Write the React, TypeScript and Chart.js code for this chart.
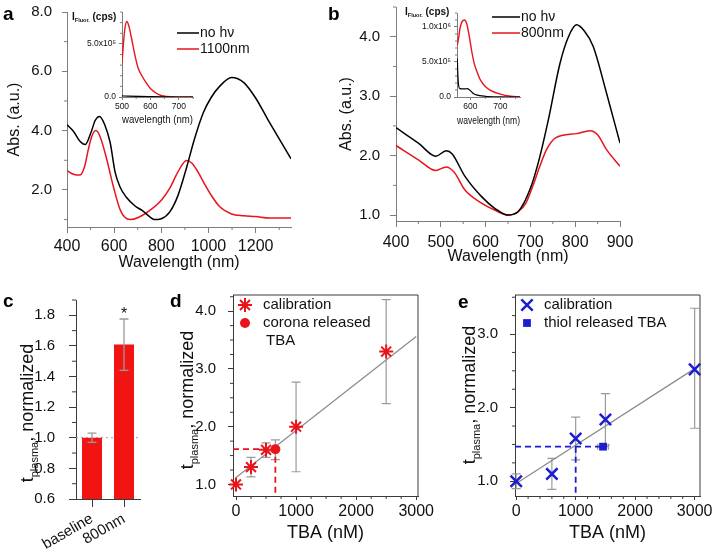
import React, { useEffect, useRef } from 'react';
import { Chart, registerables } from 'chart.js';

Chart.register(...registerables);

const FONT = '"Liberation Sans", Arial, Helvetica, sans-serif';
Chart.defaults.font.family = FONT;
const INK = '#111111';
const RED = '#e8141c';
const BAR_RED = '#f21313';
const BLUE = '#1d1dd0';
const ERR_GRAY = '#9a9a9a';
const FIT_GRAY = '#8a8a8a';
const AXIS_LIGHT = '#7d7d7d';
const AXIS_DARK = '#3a3a3a';

/* ---------------- Panel a: absorbance ---------------- */
const aWlNoHv = [400, 427, 455, 477, 500, 520, 538, 560, 583, 604, 625, 650, 690, 720, 750, 770, 800, 836, 870, 907, 940, 978, 1010, 1048, 1098, 1150, 1200, 1250, 1300, 1350];
const aAbsNoHv = [4.2, 3.98, 3.64, 3.53, 3.9, 4.35, 4.48, 4.2, 3.6, 2.6, 2.1, 1.77, 1.45, 1.3, 1.1, 1.0, 1.03, 1.26, 1.8, 2.75, 3.7, 4.6, 5.1, 5.5, 5.79, 5.62, 5.1, 4.4, 3.72, 3.05];
const aWl1100 = [400, 430, 455, 475, 490, 505, 522, 540, 569, 597, 626, 645, 668, 700, 750, 800, 836, 870, 907, 930, 950, 980, 1006, 1048, 1098, 1150, 1200, 1260, 1350];
const aAbs1100 = [2.65, 2.52, 2.5, 2.8, 3.35, 3.8, 4.0, 3.8, 3.02, 2.1, 1.32, 1.08, 1.0, 1.06, 1.3, 1.65, 2.06, 2.6, 2.99, 2.9, 2.68, 2.25, 1.89, 1.43, 1.19, 1.13, 1.1, 1.05, 1.05];
const aXTicks = [400, 600, 800, 1000, 1200];
const aXTickLabels = ['400', '600', '800', '1000', '1200'];
const aYTicks = [2, 4, 6, 8];
const aYTickLabels = ['2.0', '4.0', '6.0', '8.0'];
const aSeriesNames = ['no h\u03bd', '1100nm'];

/* inset a: fluorescence */
const aiWl1100 = [500, 505, 510, 517, 525, 533, 545, 557, 570, 586, 600, 621, 640, 657, 700, 750];
const aiFluor1100 = [3.2e5, 5.0e5, 6.4e5, 7.1e5, 6.6e5, 5.6e5, 4.0e5, 2.7e5, 2.0e5, 1.3e5, 0.8e5, 0.35e5, 0.12e5, 0.05e5, 0.01e5, 0];
const aiWlNoHv = [500, 520, 560, 600, 650, 700, 750];
const aiFluorNoHv = [0.1e5, 0.08e5, 0.05e5, 0.03e5, 0.01e5, 0, 0];
const aiXTicks = [500, 600, 700];
const aiXTickLabels = ['500', '600', '700'];
const aiYTicks = [0, 5e5];
const aiYTickLabels = ['0.0', '5.0x10\u2075'];

/* ---------------- Panel b ---------------- */
const bWlNoHv = [400, 450, 489, 512, 525, 554, 591, 621, 650, 673, 700, 720, 740, 766, 785, 803, 820, 840, 870, 900];
const bAbsNoHv = [2.47, 2.21, 1.99, 2.08, 2.03, 1.65, 1.31, 1.11, 1.0, 1.06, 1.45, 1.95, 2.6, 3.55, 4.0, 4.2, 4.1, 3.84, 3.05, 2.21];
const bWl800 = [400, 450, 489, 512, 530, 554, 591, 621, 650, 673, 690, 706, 720, 736, 756, 803, 833, 850, 870, 900];
const bAbs800 = [2.17, 1.93, 1.75, 1.81, 1.72, 1.42, 1.2, 1.08, 1.0, 1.06, 1.2, 1.5, 1.8, 2.1, 2.3, 2.37, 2.42, 2.35, 2.1, 1.82];
const bXTicks = [400, 500, 600, 700, 800, 900];
const bXTickLabels = ['400', '500', '600', '700', '800', '900'];
const bYTicks = [1, 2, 3, 4];
const bYTickLabels = ['1.0', '2.0', '3.0', '4.0'];
const bSeriesNames = ['no h\u03bd', '800nm'];

/* inset b */
const biWl800 = [557, 562, 566, 572, 580, 588, 597, 605, 613, 625, 634, 650, 667, 700, 733, 765];
const biFluor800 = [7.4e5, 8.6e5, 9.8e5, 1.07e6, 1.1e6, 1.05e6, 8.6e5, 6.5e5, 4.8e5, 3.3e5, 2.4e5, 1.5e5, 0.95e5, 0.4e5, 0.1e5, 0];
const biWlNoHv = [557, 559, 562, 566, 575, 583, 590, 598, 610, 620, 650, 700, 765];
const biFluorNoHv = [5.5e5, 3.0e5, 1.5e5, 1.2e5, 1.15e5, 1.15e5, 1.2e5, 1.0e5, 0.5e5, 0.3e5, 0.1e5, 0.02e5, 0];
const biXTicks = [600, 700];
const biXTickLabels = ['600', '700'];
const biYTicks = [0, 5e5, 1e6];
const biYTickLabels = ['0.0', '5.0x10\u2075', '1.0x10\u2076'];

/* ---------------- Panel c ---------------- */
const cCategories = ['baseline', '800nm'];
const cValues = [1.0, 1.61];
const cErrLow = [0.97, 1.44];
const cErrHigh = [1.03, 1.776];
const cSignificance = ['', '*'];
const cYTicks = [0.6, 0.8, 1.0, 1.2, 1.4, 1.6, 1.8];
const cYTickLabels = ['0.6', '0.8', '1.0', '1.2', '1.4', '1.6', '1.8'];
const cBaselineRef = 1.0;

/* ---------------- Panel d ---------------- */
const dXMin = -50;
const dXMax = 3030;
const dYMin = 0.8;
const dYMax = 4.28;
const dCalTBA = [0, 250, 500, 1000, 2500];
const dCalT = [1.0, 1.3, 1.6, 2.0, 3.3];
const dCalErrLow = [1.0, 1.13, 1.47, 1.22, 2.4];
const dCalErrHigh = [1.0, 1.47, 1.72, 2.77, 4.2];
const dCoronaTBA = [655];
const dCoronaT = [1.61];
const dCoronaErrLow = [1.43];
const dCoronaErrHigh = [1.77];
const dFitTBA = [0, 3000];
const dFitT = [1.12, 3.56];
const dGuideTBA = [dXMin, 655, 655];
const dGuideT = [1.61, 1.61, dYMin];
const dXTicks = [0, 1000, 2000, 3000];
const dXTickLabels = ['0', '1000', '2000', '3000'];
const dYTicks = [1, 2, 3, 4];
const dYTickLabels = ['1.0', '2.0', '3.0', '4.0'];

/* ---------------- Panel e ---------------- */
const eXMin = -20;
const eXMax = 3090;
const eYMin = 0.8;
const eYMax = 3.53;
const eCalTBA = [0, 600, 1000, 1500, 3000];
const eCalT = [1.0, 1.1, 1.58, 1.84, 2.52];
const eCalErrLow = [0.9, 0.89, 1.29, 1.49, 1.72];
const eCalErrHigh = [1.1, 1.31, 1.87, 2.19, 3.35];
const eThiolTBA = [1460];
const eThiolT = [1.47];
const eThiolXErrLow = [1370];
const eThiolXErrHigh = [1550];
const eFitTBA = [0, 3000];
const eFitT = [0.97, 2.53];
const eGuideHTBA = [eXMin, 1460];
const eGuideHT = [1.47, 1.47];
const eGuideVTBA = [1000, 1000];
const eGuideVT = [1.47, eYMin];
const eXTicks = [0, 1000, 2000, 3000];
const eXTickLabels = ['0', '1000', '2000', '3000'];
const eYTicks = [1, 2, 3];
const eYTickLabels = ['1.0', '2.0', '3.0'];

/* ---------------- helpers ---------------- */
const pts = (xs: number[], ys: number[]) => xs.map((x, i) => ({ x, y: ys[i] }));

function fixBox(s: any, isX: boolean, size: number) {
  if (isX) s.height = size;
  else s.width = size;
  s.paddingLeft = 0;
  s.paddingRight = 0;
  s.paddingTop = 0;
  s.paddingBottom = 0;
}

function linearAxis(p: any) {
  return {
    type: 'linear',
    position: p.isX ? 'bottom' : 'left',
    min: p.min,
    max: p.max,
    bounds: 'data',
    afterBuildTicks: (s: any) => {
      s.ticks = p.ticks.map((v: number) => ({ value: v }));
    },
    afterFit: (s: any) => fixBox(s, p.isX, p.fit),
    ticks: {
      autoSkip: false,
      maxRotation: 0,
      minRotation: 0,
      padding: p.pad,
      color: INK,
      font: { family: FONT, size: p.size },
      callback: (_v: any, i: number) => p.labels[i],
    },
    grid: { display: true, drawOnChartArea: false, drawTicks: true, tickLength: p.tickLength, tickColor: p.color, tickWidth: 1 },
    border: { display: true, color: p.color, width: 1 },
    title: p.title
      ? { display: true, text: p.title, color: INK, font: { family: FONT, size: p.titleSize }, padding: p.titlePad }
      : { display: false },
  };
}

function fontStr(p: any) {
  return `${p.bold ? 'bold ' : ''}${p.size}px ${FONT}`;
}

function drawParts(ctx: CanvasRenderingContext2D, parts: any[], x: number, y: number, rotate: boolean, center: boolean) {
  ctx.save();
  ctx.translate(x, y);
  if (rotate) ctx.rotate(-Math.PI / 2);
  const widths = parts.map((p) => {
    ctx.font = fontStr(p);
    return ctx.measureText(p.text).width;
  });
  const total = widths.reduce((a, b) => a + b, 0);
  let cx = center ? -total / 2 : 0;
  ctx.textBaseline = 'alphabetic';
  ctx.textAlign = 'left';
  ctx.fillStyle = INK;
  parts.forEach((p, i) => {
    ctx.font = fontStr(p);
    ctx.fillText(p.text, cx, p.dy || 0);
    cx += widths[i];
  });
  ctx.restore();
}

function drawMarker(ctx: CanvasRenderingContext2D, style: string, x: number, y: number, r: number, color: string, lw: number) {
  ctx.save();
  ctx.strokeStyle = color;
  ctx.fillStyle = color;
  ctx.lineWidth = lw;
  if (style === 'circle') {
    ctx.beginPath();
    ctx.arc(x, y, r, 0, Math.PI * 2);
    ctx.fill();
  } else if (style === 'rect') {
    const s = r * Math.SQRT1_2;
    ctx.fillRect(x - s, y - s, 2 * s, 2 * s);
  } else {
    ctx.beginPath();
    if (style === 'star' || style === 'cross') {
      ctx.moveTo(x - r, y);
      ctx.lineTo(x + r, y);
      ctx.moveTo(x, y - r);
      ctx.lineTo(x, y + r);
    }
    if (style === 'star' || style === 'crossRot') {
      const o = r * Math.SQRT1_2;
      ctx.moveTo(x - o, y - o);
      ctx.lineTo(x + o, y + o);
      ctx.moveTo(x - o, y + o);
      ctx.lineTo(x + o, y - o);
    }
    ctx.stroke();
  }
  ctx.restore();
}

function drawErrors(chart: any, list: any[]) {
  const { ctx, scales } = chart;
  const xs = scales.x;
  const ys = scales.y;
  list.forEach((eb) => {
    ctx.save();
    ctx.strokeStyle = eb.color;
    ctx.lineWidth = eb.lw || 1;
    for (let i = 0; i < eb.lows.length; i++) {
      if (eb.lows[i] === eb.highs[i]) continue;
      ctx.beginPath();
      if (eb.horizontal) {
        const py = ys.getPixelForValue(eb.at[i]);
        const x1 = xs.getPixelForValue(eb.lows[i]);
        const x2 = xs.getPixelForValue(eb.highs[i]);
        ctx.moveTo(x1, py);
        ctx.lineTo(x2, py);
        ctx.moveTo(x1, py - eb.cap);
        ctx.lineTo(x1, py + eb.cap);
        ctx.moveTo(x2, py - eb.cap);
        ctx.lineTo(x2, py + eb.cap);
      } else {
        const px = xs.getPixelForValue(eb.at[i]);
        const y1 = ys.getPixelForValue(eb.lows[i]);
        const y2 = ys.getPixelForValue(eb.highs[i]);
        ctx.moveTo(px, y1);
        ctx.lineTo(px, y2);
        ctx.moveTo(px - eb.cap, y1);
        ctx.lineTo(px + eb.cap, y1);
        ctx.moveTo(px - eb.cap, y2);
        ctx.lineTo(px + eb.cap, y2);
      }
      ctx.stroke();
    }
    ctx.restore();
  });
}

function makeDecor(cfg: any) {
  return {
    id: 'decor',
    beforeDatasetsDraw(chart: any) {
      const { ctx, chartArea: ca, scales } = chart;
      if (cfg.refLineY) {
        const py = scales.y.getPixelForValue(cfg.refLineY.value);
        ctx.save();
        ctx.strokeStyle = cfg.refLineY.color;
        ctx.lineWidth = 1;
        ctx.setLineDash(cfg.refLineY.dash);
        ctx.beginPath();
        ctx.moveTo(ca.left, py);
        ctx.lineTo(ca.right, py);
        ctx.stroke();
        ctx.restore();
      }
      if (cfg.errorBars && !cfg.errorsOnTop) drawErrors(chart, cfg.errorBars);
    },
    afterDatasetsDraw(chart: any) {
      if (cfg.errorBars && cfg.errorsOnTop) drawErrors(chart, cfg.errorBars);
      const { ctx, scales } = chart;
      (cfg.notes || []).forEach((n: any) => {
        if (!n.text) return;
        const px = scales.x.getPixelForValue(n.at);
        const py = scales.y.getPixelForValue(n.value);
        ctx.save();
        ctx.fillStyle = INK;
        ctx.font = `${n.size}px ${FONT}`;
        ctx.textAlign = 'center';
        ctx.textBaseline = 'alphabetic';
        ctx.fillText(n.text, px, py + (n.dy || 0));
        ctx.restore();
      });
    },
    afterDraw(chart: any) {
      const { ctx, chartArea: ca, scales } = chart;
      if (cfg.frame) {
        ctx.save();
        ctx.strokeStyle = cfg.frame;
        ctx.lineWidth = 1;
        ctx.beginPath();
        ctx.moveTo(ca.left, ca.top);
        ctx.lineTo(ca.right, ca.top);
        ctx.lineTo(ca.right, ca.bottom);
        ctx.stroke();
        ctx.restore();
      }
      if (cfg.minor) {
        ctx.save();
        ctx.strokeStyle = cfg.minor.color;
        ctx.lineWidth = 1;
        ctx.beginPath();
        ['x', 'y'].forEach((k) => {
          const m = cfg.minor[k];
          if (!m) return;
          const s = scales[k];
          const majors = s.ticks.map((t: any) => t.value);
          const start = Math.ceil(s.min / m.step - 1e-9);
          for (let i = start; i * m.step <= s.max + 1e-9; i++) {
            const v = i * m.step;
            if (majors.some((mv: number) => Math.abs(mv - v) < m.step * 1e-3)) continue;
            const p = s.getPixelForValue(v);
            if (k === 'x') {
              ctx.moveTo(p, ca.bottom);
              ctx.lineTo(p, ca.bottom + m.len);
            } else {
              ctx.moveTo(ca.left - m.len, p);
              ctx.lineTo(ca.left, p);
            }
          }
        });
        ctx.stroke();
        ctx.restore();
      }
      (cfg.legend || []).forEach((it: any) => {
        if (it.kind === 'line') {
          ctx.save();
          ctx.strokeStyle = it.color;
          ctx.lineWidth = it.lw;
          ctx.beginPath();
          ctx.moveTo(it.x1, it.y);
          ctx.lineTo(it.x2, it.y);
          ctx.stroke();
          ctx.restore();
        } else if (it.kind === 'marker') {
          drawMarker(ctx, it.style, it.x, it.y, it.r, it.color, it.lw);
        }
        if (it.text) {
          ctx.save();
          ctx.fillStyle = INK;
          ctx.font = `${it.size}px ${FONT}`;
          ctx.textAlign = 'left';
          ctx.textBaseline = 'middle';
          ctx.fillText(it.text, it.tx, it.y);
          ctx.restore();
        }
      });
      if (cfg.hTitle) drawParts(ctx, cfg.hTitle.parts, cfg.hTitle.x, cfg.hTitle.y, false, false);
      if (cfg.vTitle) drawParts(ctx, cfg.vTitle.parts, cfg.vTitle.x, cfg.vTitle.y, true, true);
      if (cfg.letter) {
        ctx.save();
        ctx.fillStyle = '#000';
        ctx.font = `bold 19px ${FONT}`;
        ctx.textAlign = 'left';
        ctx.textBaseline = 'alphabetic';
        ctx.fillText(cfg.letter.text, cfg.letter.x, cfg.letter.y);
        ctx.restore();
      }
    },
  };
}

const baseOptions = (padding: any) => ({
  responsive: false,
  maintainAspectRatio: false,
  animation: false,
  devicePixelRatio: 1,
  events: [],
  layout: { padding },
  plugins: { legend: { display: false }, tooltip: { enabled: false }, title: { display: false } },
});

const curve = (xs: number[], ys: number[], color: string, w = 1.5) => ({
  data: pts(xs, ys),
  borderColor: color,
  backgroundColor: color,
  borderWidth: w,
  pointRadius: 0,
  pointHoverRadius: 0,
  cubicInterpolationMode: 'monotone',
  fill: false,
});

const vTitleParts = [
  { text: 't', size: 18 },
  { text: 'plasma', size: 11, dy: 5 },
  { text: ', normalized', size: 18 },
];
const fluorTitleParts = [
  { text: 'I', size: 10, bold: true },
  { text: 'Fluor.', size: 5.5, bold: true, dy: 2 },
  { text: ' (cps)', size: 10, bold: true },
];

/* ---------------- chart configs ---------------- */
function configA(): any {
  return {
    type: 'line',
    data: { datasets: [curve(aWlNoHv, aAbsNoHv, '#000'), curve(aWl1100, aAbs1100, RED)] },
    options: {
      ...baseOptions({ left: 0, top: 12, right: 19, bottom: 0 }),
      scales: {
        x: linearAxis({ isX: true, min: 400, max: 1350, ticks: aXTicks, labels: aXTickLabels, fit: 48, tickLength: 6, pad: 4, size: 16, color: AXIS_LIGHT, title: 'Wavelength (nm)', titleSize: 16, titlePad: { top: 0, bottom: 3 } }),
        y: linearAxis({ isX: false, min: 0.75, max: 8, ticks: aYTicks, labels: aYTickLabels, fit: 67, tickLength: 5, pad: 10, size: 15, color: AXIS_LIGHT, title: 'Abs. (a.u.)', titleSize: 16, titlePad: { top: 5, bottom: 0 } }),
      },
    },
    plugins: [
      makeDecor({
        minor: { color: AXIS_LIGHT, x: { step: 100, len: 3 }, y: { step: 1, len: 3 } },
        legend: [
          { kind: 'line', color: '#000', lw: 1.5, x1: 177, x2: 199, y: 33, text: aSeriesNames[0], tx: 200, size: 14 },
          { kind: 'line', color: RED, lw: 1.5, x1: 177, x2: 199, y: 49, text: aSeriesNames[1], tx: 200, size: 14 },
        ],
        letter: { text: 'a', x: 3, y: 20 },
      }),
    ],
  };
}

function configAI(): any {
  return {
    type: 'line',
    data: { datasets: [curve(aiWlNoHv, aiFluorNoHv, '#000', 1.2), curve(aiWl1100, aiFluor1100, RED, 1.4)] },
    options: {
      ...baseOptions({ left: 0, top: 12, right: 19, bottom: 0 }),
      scales: {
        x: linearAxis({ isX: true, min: 500, max: 750, ticks: aiXTicks, labels: aiXTickLabels, fit: 33, tickLength: 3, pad: 2, size: 8.5, color: AXIS_LIGHT, title: 'wavelength (nm)', titleSize: 11, titlePad: { top: 0, bottom: 3 } }),
        y: linearAxis({ isX: false, min: 0, max: 8e5, ticks: aiYTicks, labels: aiYTickLabels, fit: 60, tickLength: 3, pad: 3, size: 8.5, color: AXIS_LIGHT }),
      },
    },
    plugins: [
      makeDecor({
        minor: { color: AXIS_LIGHT, x: { step: 50, len: 2 }, y: { step: 1e5, len: 2 } },
        hTitle: { x: 10, y: 20, parts: fluorTitleParts },
      }),
    ],
  };
}

function configB(): any {
  return {
    type: 'line',
    data: { datasets: [curve(bWlNoHv, bAbsNoHv, '#000'), curve(bWl800, bAbs800, RED)] },
    options: {
      ...baseOptions({ left: 0, top: 7, right: 20, bottom: 0 }),
      scales: {
        x: linearAxis({ isX: true, min: 400, max: 900, ticks: bXTicks, labels: bXTickLabels, fit: 54, tickLength: 6, pad: 6, size: 16, color: AXIS_LIGHT, title: 'Wavelength (nm)', titleSize: 16, titlePad: { top: 0, bottom: 9 } }),
        y: linearAxis({ isX: false, min: 0.9, max: 4.5, ticks: bYTicks, labels: bYTickLabels, fit: 76, tickLength: 6, pad: 10, size: 15, color: AXIS_LIGHT, title: 'Abs. (a.u.)', titleSize: 16, titlePad: { top: 17, bottom: 0 } }),
      },
    },
    plugins: [
      makeDecor({
        minor: { color: AXIS_LIGHT, x: { step: 50, len: 3 }, y: { step: 0.5, len: 3 } },
        legend: [
          { kind: 'line', color: '#000', lw: 1.5, x1: 172, x2: 200, y: 17, text: bSeriesNames[0], tx: 201, size: 14 },
          { kind: 'line', color: RED, lw: 1.5, x1: 172, x2: 200, y: 33, text: bSeriesNames[1], tx: 201, size: 14 },
        ],
        letter: { text: 'b', x: 8, y: 20 },
      }),
    ],
  };
}

function configBI(): any {
  return {
    type: 'line',
    data: { datasets: [curve(biWlNoHv, biFluorNoHv, '#000', 1.2), curve(biWl800, biFluor800, RED, 1.4)] },
    options: {
      ...baseOptions({ left: 0, top: 13, right: 20, bottom: 0 }),
      scales: {
        x: linearAxis({ isX: true, min: 556, max: 765, ticks: biXTicks, labels: biXTickLabels, fit: 33, tickLength: 3, pad: 2, size: 8.5, color: AXIS_LIGHT, title: 'wavelength (nm)', titleSize: 11, titlePad: { top: 0, bottom: 2 } }),
        y: linearAxis({ isX: false, min: 0, max: 1.2e6, ticks: biYTicks, labels: biYTickLabels, fit: 62, tickLength: 3, pad: 3, size: 8.5, color: AXIS_LIGHT }),
      },
    },
    plugins: [
      makeDecor({
        minor: { color: AXIS_LIGHT, x: { step: 50, len: 2 }, y: { step: 1e5, len: 2 } },
        hTitle: { x: 10, y: 15, parts: fluorTitleParts },
      }),
    ],
  };
}

function configC(): any {
  return {
    type: 'bar',
    data: {
      labels: cCategories,
      datasets: [{ data: cValues, backgroundColor: BAR_RED, borderWidth: 0, barPercentage: 0.625, categoryPercentage: 1 }],
    },
    options: {
      ...baseOptions({ left: 0, top: 20, right: 20, bottom: 0 }),
      scales: {
        x: {
          type: 'category',
          offset: true,
          afterFit: (s: any) => fixBox(s, true, 53),
          ticks: { autoSkip: false, minRotation: 30, maxRotation: 30, padding: 3, color: INK, font: { family: FONT, size: 15 } },
          grid: { display: true, offset: false, drawOnChartArea: false, drawTicks: true, tickLength: 8, tickColor: AXIS_DARK },
          border: { display: true, color: AXIS_DARK, width: 1 },
        },
        y: linearAxis({ isX: false, min: 0.6, max: 1.9, ticks: cYTicks, labels: cYTickLabels, fit: 76, tickLength: 7, pad: 14, size: 15, color: AXIS_DARK }),
      },
    },
    plugins: [
      makeDecor({
        refLineY: { value: cBaselineRef, color: '#9a9a9a', dash: [2, 3] },
        errorsOnTop: true,
        errorBars: [{ at: [0, 1], lows: cErrLow, highs: cErrHigh, color: ERR_GRAY, cap: 4.5, lw: 1.3 }],
        notes: cSignificance.map((t, i) => ({ text: t, at: i, value: cErrHigh[i], size: 16, dy: 0 })),
        minor: { color: AXIS_DARK, y: { step: 0.1, len: 4 } },
        vTitle: { x: 33, y: 133, parts: vTitleParts },
        letter: { text: 'c', x: 3, y: 27 },
      }),
    ],
  };
}

function configD(): any {
  return {
    type: 'line',
    data: {
      datasets: [
        { ...curve(dFitTBA, dFitT, FIT_GRAY, 1.2), cubicInterpolationMode: 'default', order: 3 },
        { ...curve(dGuideTBA, dGuideT, RED, 1.8), cubicInterpolationMode: 'default', borderDash: [6, 4], order: 2 },
        { data: pts(dCalTBA, dCalT), showLine: false, pointStyle: 'star', pointRadius: 7, pointBorderWidth: 2, pointBorderColor: RED, pointBackgroundColor: RED, clip: false, order: 0 },
        { data: pts(dCoronaTBA, dCoronaT), showLine: false, pointStyle: 'circle', pointRadius: 5, pointBorderWidth: 0, pointBorderColor: RED, pointBackgroundColor: RED, clip: false, order: 1 },
      ],
    },
    options: {
      ...baseOptions({ left: 0, top: 15, right: 27, bottom: 0 }),
      scales: {
        x: linearAxis({ isX: true, min: dXMin, max: dXMax, ticks: dXTicks, labels: dXTickLabels, fit: 56, tickLength: 4, pad: 2, size: 16, color: AXIS_DARK, title: 'TBA (nM)', titleSize: 18, titlePad: { top: 0, bottom: 8 } }),
        y: linearAxis({ isX: false, min: dYMin, max: dYMax, ticks: dYTicks, labels: dYTickLabels, fit: 68, tickLength: 5, pad: 12, size: 15, color: AXIS_DARK }),
      },
    },
    plugins: [
      makeDecor({
        frame: AXIS_DARK,
        errorBars: [
          { at: dCalTBA, lows: dCalErrLow, highs: dCalErrHigh, color: ERR_GRAY, cap: 4.5, lw: 1.2 },
          { at: dCoronaTBA, lows: dCoronaErrLow, highs: dCoronaErrHigh, color: ERR_GRAY, cap: 4.5, lw: 1.2 },
        ],
        minor: { color: AXIS_DARK, x: { step: 250, len: 3 }, y: { step: 0.25, len: 3 } },
        legend: [
          { kind: 'marker', style: 'star', x: 80, y: 25, r: 7, color: RED, lw: 2, text: 'calibration', tx: 98, size: 15 },
          { kind: 'marker', style: 'circle', x: 80, y: 43, r: 5, color: RED, lw: 1, text: 'corona released', tx: 98, size: 15 },
          { kind: 'text', y: 61, text: 'TBA', tx: 101, size: 15 },
        ],
        vTitle: { x: 28, y: 120, parts: vTitleParts },
        letter: { text: 'd', x: 5, y: 27 },
      }),
    ],
  };
}

function configE(): any {
  return {
    type: 'line',
    data: {
      datasets: [
        { ...curve(eFitTBA, eFitT, FIT_GRAY, 1.2), cubicInterpolationMode: 'default', order: 3 },
        { ...curve(eGuideHTBA, eGuideHT, BLUE, 1.8), cubicInterpolationMode: 'default', borderDash: [6, 4], order: 2 },
        { ...curve(eGuideVTBA, eGuideVT, BLUE, 1.8), cubicInterpolationMode: 'default', borderDash: [6, 4], order: 2 },
        { data: pts(eCalTBA, eCalT), showLine: false, pointStyle: 'crossRot', pointRadius: 8, pointBorderWidth: 2.5, pointBorderColor: BLUE, pointBackgroundColor: BLUE, clip: false, order: 0 },
        { data: pts(eThiolTBA, eThiolT), showLine: false, pointStyle: 'rect', pointRadius: 5.5, pointBorderWidth: 0, pointBorderColor: BLUE, pointBackgroundColor: BLUE, clip: false, order: 1 },
      ],
    },
    options: {
      ...baseOptions({ left: 0, top: 15, right: 15, bottom: 0 }),
      scales: {
        x: linearAxis({ isX: true, min: eXMin, max: eXMax, ticks: eXTicks, labels: eXTickLabels, fit: 56, tickLength: 4, pad: 2, size: 16, color: AXIS_DARK, title: 'TBA (nM)', titleSize: 18, titlePad: { top: 0, bottom: 8 } }),
        y: linearAxis({ isX: false, min: eYMin, max: eYMax, ticks: eYTicks, labels: eYTickLabels, fit: 60, tickLength: 5, pad: 12, size: 15, color: AXIS_DARK }),
      },
    },
    plugins: [
      makeDecor({
        frame: AXIS_DARK,
        errorBars: [
          { at: eCalTBA, lows: eCalErrLow, highs: eCalErrHigh, color: ERR_GRAY, cap: 4.5, lw: 1.2 },
          { horizontal: true, at: eThiolT, lows: eThiolXErrLow, highs: eThiolXErrHigh, color: ERR_GRAY, cap: 3, lw: 1.2 },
        ],
        minor: { color: AXIS_DARK, x: { step: 200, len: 3 }, y: { step: 0.25, len: 3 } },
        legend: [
          { kind: 'marker', style: 'crossRot', x: 72, y: 25, r: 8, color: BLUE, lw: 2.5, text: 'calibration', tx: 89, size: 15 },
          { kind: 'marker', style: 'rect', x: 72, y: 43, r: 5.5, color: BLUE, lw: 1, text: 'thiol released TBA', tx: 89, size: 15 },
        ],
        vTitle: { x: 20, y: 115, parts: vTitleParts },
        letter: { text: 'e', x: 3, y: 28 },
      }),
    ],
  };
}

type Box = { key: string; left: number; top: number; w: number; h: number; make: () => any };

const BOXES: Box[] = [
  { key: 'a', left: 0, top: 0, w: 310, h: 275, make: configA },
  { key: 'ai', left: 62, top: 0, w: 150, h: 130, make: configAI },
  { key: 'b', left: 320, top: 0, w: 320, h: 275, make: configB },
  { key: 'bi', left: 395, top: 0, w: 145, h: 130, make: configBI },
  { key: 'c', left: 0, top: 280, w: 160, h: 272, make: configC },
  { key: 'd', left: 165, top: 280, w: 280, h: 272, make: configD },
  { key: 'e', left: 455, top: 280, w: 260, h: 272, make: configE },
];

export default function App() {
  const canvases = useRef<(HTMLCanvasElement | null)[]>([]);

  useEffect(() => {
    const charts: Chart[] = [];
    BOXES.forEach((b, i) => {
      const el = canvases.current[i];
      if (el) charts.push(new Chart(el, b.make()));
    });
    return () => charts.forEach((c) => c.destroy());
  }, []);

  return (
    <div style={{ position: 'fixed', left: 0, top: 0, width: 715, height: 552, background: '#fff', overflow: 'hidden' }}>
      {BOXES.map((b, i) => (
        <canvas
          key={b.key}
          ref={(el) => {
            canvases.current[i] = el;
          }}
          width={b.w}
          height={b.h}
          style={{ position: 'absolute', left: b.left, top: b.top, width: b.w, height: b.h }}
        />
      ))}
    </div>
  );
}
